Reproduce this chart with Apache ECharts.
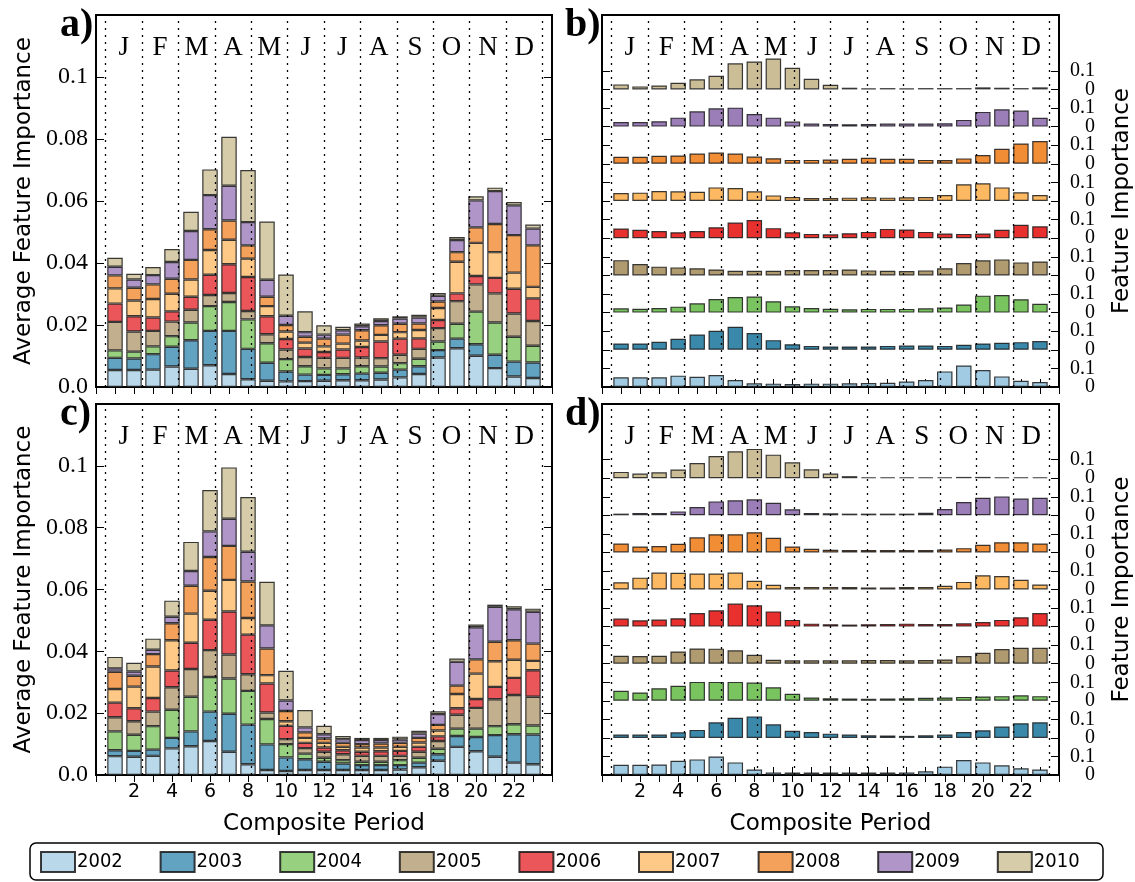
<!DOCTYPE html>
<html><head><meta charset="utf-8">
<script src="https://cdn.jsdelivr.net/npm/echarts@6/dist/echarts.min.js"></script>
<style>html,body{margin:0;padding:0;background:#fff}#c{width:1135px;height:882px}</style>
</head><body><div id="c"></div>
<script>
const years = ['2002','2003','2004','2005','2006','2007','2008','2009','2010'];
const periods = [1,2,3,4,5,6,7,8,9,10,11,12,13,14,15,16,17,18,19,20,21,22,23];
const months = ['J','F','M','A','M','J','J','A','S','O','N','D'];
const xTickLabels = [2,4,6,8,10,12,14,16,18,20,22];

// Panel a: average feature importance (stacked)
const a2002 = [0.0055,0.0055,0.0056,0.0066,0.0059,0.0070,0.0042,0.0025,0.0020,0.0018,0.0019,0.0020,0.0022,0.0022,0.0024,0.0031,0.0042,0.0095,0.0125,0.0101,0.0061,0.0034,0.0029];
const a2003 = [0.0039,0.0037,0.0050,0.0064,0.0092,0.0111,0.0139,0.0098,0.0058,0.0032,0.0021,0.0019,0.0019,0.0021,0.0022,0.0025,0.0025,0.0024,0.0031,0.0037,0.0043,0.0048,0.0050];
const a2004 = [0.0024,0.0022,0.0025,0.0034,0.0057,0.0080,0.0093,0.0095,0.0063,0.0040,0.0027,0.0021,0.0019,0.0024,0.0020,0.0021,0.0024,0.0028,0.0048,0.0105,0.0104,0.0080,0.0054];
const a2005 = [0.0092,0.0065,0.0050,0.0047,0.0041,0.0036,0.0029,0.0027,0.0029,0.0031,0.0030,0.0034,0.0034,0.0028,0.0027,0.0027,0.0032,0.0043,0.0073,0.0088,0.0094,0.0075,0.0080];
const a2006 = [0.0059,0.0049,0.0043,0.0033,0.0042,0.0065,0.0093,0.0110,0.0058,0.0034,0.0027,0.0019,0.0027,0.0034,0.0054,0.0052,0.0034,0.0026,0.0025,0.0027,0.0050,0.0080,0.0073];
const a2007 = [0.0049,0.0051,0.0060,0.0057,0.0056,0.0080,0.0079,0.0059,0.0033,0.0024,0.0019,0.0018,0.0019,0.0021,0.0021,0.0021,0.0027,0.0039,0.0102,0.0107,0.0083,0.0052,0.0037];
const a2008 = [0.0042,0.0041,0.0047,0.0048,0.0063,0.0067,0.0062,0.0043,0.0030,0.0021,0.0019,0.0025,0.0029,0.0033,0.0031,0.0027,0.0021,0.0021,0.0031,0.0050,0.0091,0.0121,0.0134];
const a2009 = [0.0028,0.0027,0.0030,0.0054,0.0093,0.0110,0.0112,0.0075,0.0055,0.0030,0.0015,0.0013,0.0014,0.0013,0.0014,0.0017,0.0019,0.0018,0.0039,0.0087,0.0106,0.0096,0.0054];
const a2010 = [0.0029,0.0018,0.0026,0.0042,0.0062,0.0083,0.0158,0.0168,0.0188,0.0133,0.0067,0.0030,0.0011,0.0009,0.0009,0.0007,0.0009,0.0009,0.0010,0.0013,0.0011,0.0011,0.0013];

// Panel b: per-year feature importance
const b2002 = [0.052,0.052,0.052,0.061,0.055,0.064,0.038,0.020,0.018,0.016,0.018,0.018,0.020,0.021,0.023,0.029,0.038,0.084,0.115,0.091,0.057,0.034,0.027];
const b2003 = [0.034,0.034,0.043,0.059,0.082,0.102,0.124,0.090,0.052,0.030,0.021,0.018,0.018,0.018,0.021,0.023,0.023,0.021,0.027,0.034,0.038,0.041,0.047];
const b2004 = [0.023,0.021,0.025,0.032,0.050,0.073,0.084,0.086,0.061,0.034,0.025,0.021,0.018,0.020,0.020,0.020,0.023,0.027,0.043,0.091,0.095,0.072,0.047];
const b2005 = [0.082,0.061,0.047,0.043,0.038,0.032,0.025,0.025,0.025,0.029,0.029,0.029,0.032,0.027,0.025,0.023,0.027,0.038,0.066,0.081,0.086,0.070,0.075];
const b2006 = [0.052,0.045,0.039,0.032,0.039,0.059,0.084,0.098,0.054,0.032,0.023,0.021,0.027,0.034,0.050,0.047,0.034,0.025,0.023,0.025,0.045,0.072,0.064];
const b2007 = [0.043,0.045,0.054,0.052,0.050,0.073,0.070,0.052,0.030,0.021,0.016,0.016,0.018,0.020,0.018,0.020,0.021,0.032,0.090,0.095,0.073,0.047,0.032];
const b2008 = [0.038,0.038,0.043,0.045,0.055,0.061,0.055,0.039,0.030,0.021,0.021,0.023,0.027,0.032,0.027,0.027,0.021,0.020,0.029,0.047,0.081,0.109,0.122];
const b2009 = [0.025,0.025,0.029,0.048,0.082,0.098,0.102,0.068,0.048,0.027,0.016,0.014,0.013,0.014,0.016,0.016,0.016,0.018,0.036,0.079,0.093,0.086,0.047];
const b2010 = [0.027,0.016,0.021,0.036,0.054,0.073,0.140,0.150,0.166,0.116,0.057,0.025,0.009,0.005,0.007,0.005,0.007,0.007,0.007,0.011,0.009,0.007,0.011];

// Panel c: average feature importance (stacked)
const c2002 = [0.0061,0.0059,0.0062,0.0086,0.0093,0.0110,0.0075,0.0035,0.0016,0.0013,0.0016,0.0016,0.0016,0.0016,0.0016,0.0018,0.0025,0.0046,0.0091,0.0077,0.0059,0.0040,0.0035];
const c2003 = [0.0019,0.0019,0.0020,0.0034,0.0048,0.0095,0.0123,0.0128,0.0083,0.0044,0.0035,0.0027,0.0021,0.0016,0.0016,0.0014,0.0015,0.0021,0.0035,0.0046,0.0070,0.0092,0.0096];
const c2004 = [0.0061,0.0052,0.0076,0.0091,0.0112,0.0112,0.0114,0.0109,0.0082,0.0043,0.0018,0.0013,0.0011,0.0011,0.0011,0.0016,0.0016,0.0018,0.0024,0.0027,0.0029,0.0032,0.0029];
const c2005 = [0.0046,0.0044,0.0047,0.0073,0.0090,0.0087,0.0078,0.0054,0.0021,0.0016,0.0018,0.0019,0.0019,0.0019,0.0019,0.0014,0.0019,0.0025,0.0045,0.0067,0.0087,0.0095,0.0093];
const c2006 = [0.0047,0.0042,0.0044,0.0054,0.0085,0.0098,0.0139,0.0128,0.0094,0.0043,0.0017,0.0014,0.0013,0.0013,0.0015,0.0016,0.0016,0.0015,0.0021,0.0029,0.0040,0.0055,0.0086];
const c2007 = [0.0044,0.0070,0.0102,0.0098,0.0094,0.0094,0.0102,0.0054,0.0027,0.0015,0.0016,0.0015,0.0011,0.0014,0.0012,0.0013,0.0014,0.0019,0.0046,0.0082,0.0083,0.0059,0.0030];
const c2008 = [0.0056,0.0035,0.0040,0.0055,0.0090,0.0109,0.0110,0.0118,0.0086,0.0033,0.0018,0.0014,0.0013,0.0011,0.0013,0.0013,0.0015,0.0018,0.0027,0.0046,0.0063,0.0063,0.0056];
const c2009 = [0.0011,0.0014,0.0014,0.0021,0.0048,0.0083,0.0088,0.0096,0.0075,0.0034,0.0016,0.0014,0.0012,0.0013,0.0011,0.0011,0.0014,0.0035,0.0077,0.0104,0.0113,0.0100,0.0103];
const c2010 = [0.0037,0.0028,0.0036,0.0052,0.0094,0.0134,0.0166,0.0177,0.0141,0.0096,0.0056,0.0027,0.0010,0.0007,0.0007,0.0009,0.0009,0.0009,0.0011,0.0009,0.0007,0.0010,0.0010];

// Panel d: per-year feature importance
const d2002 = [0.055,0.055,0.057,0.077,0.084,0.100,0.068,0.030,0.014,0.013,0.013,0.013,0.013,0.013,0.013,0.014,0.020,0.045,0.081,0.068,0.052,0.036,0.030];
const d2003 = [0.018,0.018,0.018,0.030,0.043,0.084,0.109,0.116,0.073,0.038,0.032,0.023,0.018,0.014,0.013,0.011,0.014,0.018,0.032,0.041,0.061,0.079,0.084];
const d2004 = [0.054,0.045,0.068,0.081,0.102,0.102,0.102,0.098,0.073,0.038,0.018,0.014,0.013,0.011,0.013,0.014,0.016,0.018,0.021,0.023,0.025,0.030,0.025];
const d2005 = [0.043,0.041,0.043,0.066,0.082,0.081,0.072,0.048,0.021,0.018,0.018,0.018,0.018,0.020,0.020,0.018,0.020,0.023,0.041,0.059,0.079,0.086,0.086];
const d2006 = [0.043,0.034,0.038,0.045,0.073,0.088,0.124,0.115,0.082,0.036,0.016,0.013,0.011,0.013,0.014,0.016,0.014,0.014,0.018,0.025,0.036,0.050,0.073];
const d2007 = [0.039,0.064,0.091,0.090,0.086,0.086,0.091,0.047,0.025,0.014,0.014,0.014,0.013,0.011,0.011,0.013,0.014,0.020,0.041,0.077,0.073,0.052,0.027];
const d2008 = [0.048,0.032,0.034,0.047,0.081,0.098,0.098,0.109,0.079,0.032,0.020,0.014,0.013,0.013,0.013,0.013,0.013,0.016,0.023,0.041,0.055,0.055,0.048];
const d2009 = [0.009,0.013,0.013,0.021,0.045,0.075,0.081,0.086,0.068,0.032,0.013,0.011,0.009,0.009,0.009,0.009,0.014,0.034,0.072,0.095,0.102,0.090,0.095];
const d2010 = [0.034,0.025,0.032,0.047,0.082,0.120,0.145,0.158,0.127,0.086,0.048,0.025,0.011,0.005,0.005,0.005,0.005,0.005,0.007,0.007,0.005,0.005,0.005];

const panelA = [a2002,a2003,a2004,a2005,a2006,a2007,a2008,a2009,a2010];
const panelB = [b2002,b2003,b2004,b2005,b2006,b2007,b2008,b2009,b2010];
const panelC = [c2002,c2003,c2004,c2005,c2006,c2007,c2008,c2009,c2010];
const panelD = [d2002,d2003,d2004,d2005,d2006,d2007,d2008,d2009,d2010];

const colLight = ['#b9d8ea','#62a3c2','#97d07f','#c1af8d','#ea5659','#fec986','#f4a25b','#b096c8','#d6cca9'];
const colDeep  = ['#a0cbe3','#3a89ab','#7ac460','#b09b70','#e8302f','#fdb862','#f08d35','#9b7db8','#cbbd96'];

const serif = '"Liberation Serif", "Times New Roman", serif';
const sans = '"DejaVu Sans", sans-serif';
const narrow = '"Liberation Sans Narrow", "DejaVu Sans Condensed", sans-serif';

// axis span 0..24 periods (category slots 0..24, bars at 1..23)
const slots = Array.from({length: 25}, (_, k) => String(k));
const mw = 23 / 12;
const monthEdges = Array.from({length: 13}, (_, k) => 0.5 + k * mw);
const monthCenters = months.map((_, k) => 0.5 + (k + 0.5) * mw);
const rowStep = 0.2;
const rowTicks = Array.from({length: 18}, (_, k) => k / 10);
const rowZeroTicks = Array.from({length: 9}, (_, k) => k * rowStep);
const rowTenthTicks = Array.from({length: 9}, (_, k) => k * rowStep + 0.1);

const gridBoxes = [
  {left: 96, top: 15, width: 456, height: 372},
  {left: 602, top: 15, width: 457, height: 372},
  {left: 96, top: 404, width: 456, height: 371},
  {left: 602, top: 404, width: 457, height: 371}
];
const grid = gridBoxes.map(g => Object.assign({show: true, borderColor: '#000', borderWidth: 2,
  backgroundColor: 'transparent', containLabel: false, outerBoundsMode: 'none'}, g));

const xAxis = [], yAxis = [], series = [];
const tickStyle = {color: '#000', width: 1};

gridBoxes.forEach((g, gi) => {
  const bottomRow = gi >= 2;
  xAxis.push({
    type: 'category', gridIndex: gi, data: slots, boundaryGap: false, position: 'bottom',
    axisLine: {show: false}, splitLine: {show: false},
    axisTick: {show: true, inside: true, interval: 0, length: (gi % 2 === 1) ? 8 : 6, lineStyle: tickStyle},
    axisLabel: {show: bottomRow, interval: 0, color: '#000', fontFamily: sans, fontSize: 19, margin: 8,
      formatter: v => xTickLabels.indexOf(+v) >= 0 ? String(v) : ''},
    name: bottomRow ? 'Composite Period' : '', nameLocation: 'middle', nameGap: 38,
    nameTextStyle: {color: '#000', fontFamily: sans, fontSize: 23}
  });
  xAxis.push({
    type: 'value', gridIndex: gi, min: 0, max: 24, interval: 1, position: 'top',
    axisLine: {show: false}, splitLine: {show: false},
    axisTick: {show: true, inside: true, length: 7, lineStyle: tickStyle},
    axisLabel: {show: true, inside: true, margin: 19, color: '#000', fontFamily: serif, fontSize: 27,
      customValues: monthCenters, showMinLabel: true, showMaxLabel: true,
      formatter: v => months[Math.max(0, Math.min(11, Math.round((v - 0.5) / mw - 0.5)))]}
  });
  if (gi % 2 === 0) {
    yAxis.push({
      type: 'value', gridIndex: gi, min: 0, max: 0.12, interval: 0.02, position: 'left',
      axisLine: {show: false}, splitLine: {show: false},
      axisTick: {show: true, inside: true, length: 8, lineStyle: tickStyle},
      axisLabel: {color: '#000', fontFamily: serif, fontSize: 24, margin: 8,
        formatter: v => v === 0 ? '0.0' : (v > 0.115 ? '' : String(+v.toFixed(2)))},
      name: 'Average Feature Importance', nameLocation: 'middle', nameGap: 60, nameRotate: 90,
      nameTextStyle: {color: '#000', fontFamily: sans, fontSize: 23}
    });
    yAxis.push({
      type: 'value', gridIndex: gi, min: 0, max: 0.12, interval: 0.02, position: 'right',
      axisLine: {show: false}, splitLine: {show: false},
      axisTick: {show: true, inside: true, length: 8, lineStyle: tickStyle},
      axisLabel: {show: false}
    });
  } else {
    yAxis.push({
      type: 'value', gridIndex: gi, min: 0, max: 2, position: 'left',
      axisLine: {show: false}, splitLine: {show: false},
      axisTick: {show: true, inside: true, length: 8, lineStyle: tickStyle, customValues: rowTicks},
      axisLabel: {show: false}
    });
    yAxis.push({
      type: 'value', gridIndex: gi, min: 0, max: 2, position: 'right',
      axisLine: {show: false}, splitLine: {show: false},
      axisTick: {show: true, inside: true, length: 8, lineStyle: tickStyle, customValues: rowTicks},
      axisLabel: {show: true, color: '#000', fontFamily: serif, fontSize: 20,
        margin: 36, align: 'right', verticalAlign: 'middle', padding: [0, 0, 4, 0],
        customValues: rowZeroTicks, showMinLabel: true, showMaxLabel: true,
        formatter: () => '0'},
      name: 'Feature Importance', nameLocation: 'middle', nameGap: 52, nameRotate: 90,
      nameTextStyle: {color: '#000', fontFamily: sans, fontSize: 23}
    });
  }
});
// second label layer for the "0.1" marks of each row (panels b and d)
[1, 3].forEach(gi => {
  yAxis.push({
    type: 'value', gridIndex: gi, min: 0, max: 2, position: 'right', offset: 0,
    axisLine: {show: false}, splitLine: {show: false}, axisTick: {show: false},
    axisLabel: {show: true, color: '#000', fontFamily: serif, fontSize: 20,
      margin: 36, align: 'right', verticalAlign: 'middle', padding: [2, 0, 0, 0],
      customValues: rowTenthTicks, showMinLabel: true, showMaxLabel: true,
      formatter: () => '0.1'}
  });
});

const markLineDef = {
  silent: true, symbol: ['none', 'none'], animation: false, label: {show: false},
  lineStyle: {color: '#000', width: 1.3, type: [2, 5], opacity: 1},
  emphasis: {disabled: true},
  data: monthEdges.map(v => ({xAxis: v}))
};
const edge = {borderColor: 'rgba(25,25,25,0.85)', borderWidth: 1.2};

function monthLines(gi) {
  series.push({type: 'line', name: '_months', xAxisIndex: 2 * gi + 1, yAxisIndex: 2 * gi,
    data: [], silent: true, markLine: markLineDef, z: 10});
}
function stackedPanel(vals, gi) {
  vals.forEach((arr, i) => {
    series.push({
      type: 'bar', name: years[i], xAxisIndex: 2 * gi, yAxisIndex: 2 * gi, stack: 'S' + gi,
      barWidth: 15.5, silent: true, emphasis: {disabled: true},
      itemStyle: Object.assign({color: colLight[i]}, edge),
      data: arr.map((v, j) => [String(periods[j]), v])
    });
  });
  monthLines(gi);
}
function rowsPanel(vals, gi) {
  vals.forEach((arr, i) => {
    const st = 'R' + gi + '_' + i;
    if (i > 0) {
      series.push({
        type: 'bar', name: '_base', xAxisIndex: 2 * gi, yAxisIndex: 2 * gi, stack: st,
        barWidth: 15.5, barGap: '-100%', silent: true, emphasis: {disabled: true},
        itemStyle: {color: 'rgba(0,0,0,0)', borderWidth: 0},
        data: arr.map((v, j) => [String(periods[j]), rowStep * i])
      });
    }
    series.push({
      type: 'bar', name: years[i], xAxisIndex: 2 * gi, yAxisIndex: 2 * gi, stack: st,
      barWidth: 15.5, barGap: '-100%', silent: true, emphasis: {disabled: true},
      itemStyle: Object.assign({color: colDeep[i]}, edge),
      data: arr.map((v, j) => [String(periods[j]), v])
    });
  });
  monthLines(gi);
}
stackedPanel(panelA, 0);
rowsPanel(panelB, 1);
stackedPanel(panelC, 2);
rowsPanel(panelD, 3);

const legend = years.map((y, i) => ({
  data: [y], left: 35 + i * 119.6, top: 846, itemWidth: 34, itemHeight: 20, itemGap: 0,
  icon: 'rect', selectedMode: false,
  textStyle: {color: '#000', fontFamily: narrow, fontSize: 20, padding: [0, 0, 0, -3]}
}));

const letter = (t, x, y) => ({type: 'text', left: x, top: y, silent: true,
  style: {text: t, fill: '#000', font: 'bold 40px "Liberation Serif", serif'}});

const chart = echarts.init(document.getElementById('c'), null, {renderer: 'canvas'});
chart.setOption({
  animation: false,
  backgroundColor: '#fff',
  grid, xAxis, yAxis, series, legend,
  graphic: [
    letter('a)', 60, 6), letter('b)', 565, 6), letter('c)', 60, 395), letter('d)', 565, 395),
    {type: 'rect', silent: true, shape: {x: 30, y: 843, width: 1073, height: 37, r: 6},
     style: {fill: 'none', stroke: '#000', lineWidth: 1.5}}
  ]
});
</script></body></html>
